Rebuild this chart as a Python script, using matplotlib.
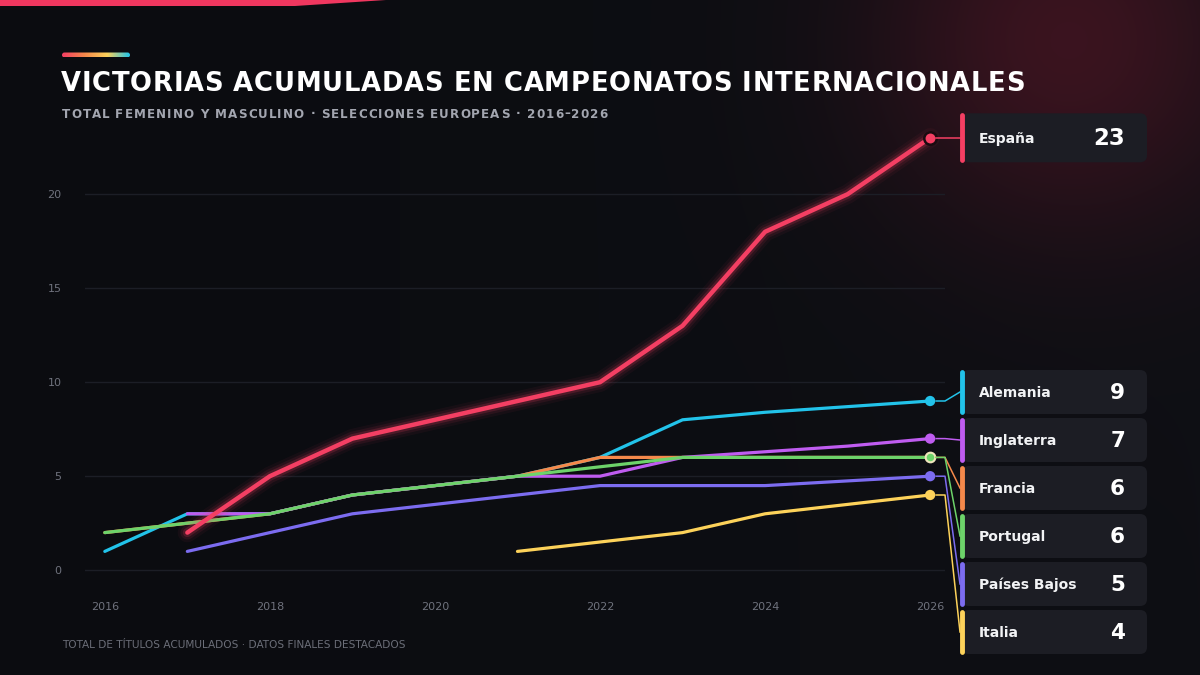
import numpy as np
import matplotlib.pyplot as plt
from matplotlib.patches import FancyBboxPatch, Polygon
from matplotlib.colors import LinearSegmentedColormap, to_rgb
from matplotlib.font_manager import FontProperties

# datos: titulos acumulados por seleccion (suma femenino + masculino)
years = [2016, 2017, 2018, 2019, 2020, 2021, 2022, 2023, 2024, 2025, 2026]
nan = np.nan
espana = [nan, 2, 5, 7, 8, 9, 10, 13, 18, 20, 23]
alemania = [1, 3, 3, 4, 4.5, 5, 6, 8, 8.4, 8.7, 9]
inglaterra = [nan, 3, 3, 4, 4.5, 5, 5, 6, 6.3, 6.6, 7]
francia = [2, 2.5, 3, 4, 4.5, 5, 6, 6, 6, 6, 6]
portugal = [2, 2.5, 3, 4, 4.5, 5, 5.5, 6, 6, 6, 6]
paises_bajos = [nan, 1, 2, 3, 3.5, 4, 4.5, 4.5, 4.5, 4.75, 5]
italia = [nan, nan, nan, nan, nan, 1, 1.5, 2, 3, 3.5, 4]

names = ['España', 'Alemania', 'Inglaterra', 'Francia', 'Portugal', 'Países Bajos', 'Italia']
colors = ['#f43f63', '#22c3ea', '#bf5cf0', '#f5894b', '#6dd36a', '#7c6cf0', '#fdd25a']
draw_order = ['Países Bajos', 'Italia', 'Alemania', 'Francia', 'Inglaterra', 'Portugal', 'España']
series = dict(zip(names, [espana, alemania, inglaterra, francia, portugal, paises_bajos, italia]))
col = dict(zip(names, colors))

W, H = 1200, 675
BG = '#0c0d12'
plt.rcParams['font.family'] = ['DejaVu Sans']

fig = plt.figure(figsize=(12, 6.75), dpi=100)
fig.patch.set_facecolor(BG)

# fondo con brillo rojizo arriba a la derecha
bg = fig.add_axes([0, 0, 1, 1], zorder=0)
bg.axis('off')
yy, xx = np.mgrid[0:H, 0:W]
d2 = (xx - 1068) ** 2 + (yy - 40) ** 2
glow = np.exp(-d2 / (2 * 135 ** 2))[..., None]
base = np.array(to_rgb('#0b0c10'))
right = np.array(to_rgb('#0e0f14'))
lin = (xx / W)[..., None]
img = base * (1 - lin) + right * lin
img = img * (1 - glow * 0.85) + np.array([0.26, 0.08, 0.13]) * glow * 0.85
bg.imshow(img, extent=[0, W, H, 0], aspect='auto')
bg.set_xlim(0, W)
bg.set_ylim(H, 0)

# grafico principal
ax = fig.add_axes([85 / W, 1 - 589 / H, 860 / W, 470 / H], zorder=1)
ax.set_facecolor('none')
ax.set_xlim(2015.76, 2026.18)
ax.set_ylim(-1, 24)
for s in ax.spines.values():
    s.set_visible(False)
ax.set_yticks([0, 5, 10, 15, 20])
ax.set_xticks([2016, 2018, 2020, 2022, 2024, 2026])
ax.tick_params(length=0, colors='#6f727d', labelsize=8)
ax.tick_params(axis='y', pad=17)
ax.tick_params(axis='x', pad=9)
ax.grid(axis='y', color='#1c1e26', lw=1)
ax.grid(axis='x', visible=False)

for name in draw_order:
    vals = series[name]
    c = col[name]
    if name == 'España':
        for lw, a in [(14, 0.05), (10, 0.09), (6.5, 0.18)]:
            ax.plot(years, vals, color=c, lw=lw, alpha=a, solid_capstyle='round', zorder=5)
        ax.plot(years, vals, color=c, lw=3.2, solid_capstyle='round', zorder=6)
    else:
        ax.plot(years, vals, color=c, lw=2.3, solid_capstyle='round', zorder=3)

# puntos finales
for name in draw_order:
    c = col[name]
    last = series[name][-1]
    if name == 'España':
        ax.scatter([years[-1]], [last], s=80, color=c, edgecolor='#1a0b10', lw=1.8, zorder=8, clip_on=False)
    elif name == 'Portugal':
        ax.scatter([years[-1]], [last], s=48, color=c, edgecolor='#efe6bd', lw=1.5, zorder=7, clip_on=False)
    else:
        ax.scatter([years[-1]], [last], s=55, color=c, edgecolor='none', zorder=7, clip_on=False)

# capa superior en pixeles
ov = fig.add_axes([0, 0, 1, 1], zorder=2)
ov.set_xlim(0, W)
ov.set_ylim(H, 0)
ov.axis('off')
ov.patch.set_alpha(0)

fig.canvas.draw()
renderer = fig.canvas.get_renderer()


def to_px(x, y):
    dx, dy = ax.transData.transform((x, y))
    return dx, H - dy


def tracked_text(x, y, s, track, **kw):
    # texto con espaciado entre letras
    fp = FontProperties(family='DejaVu Sans', size=kw.get('fontsize'), weight=kw.get('fontweight', 'normal'))
    bar_w = renderer.get_text_width_height_descent('|', fp, ismath=False)[0]
    for i, ch in enumerate(s):
        if ch == ' ':
            continue
        w = renderer.get_text_width_height_descent(s[:i] + '|', fp, ismath=False)[0] - bar_w
        ov.text(x + (w if i else 0) + i * track, y, ch, va='center', ha='left', **kw)


# barra superior
ov.add_patch(Polygon([(0, 0), (386, 0), (295, 6), (0, 6)], closed=True, color='#f0375f', lw=0))

# pildora degradada
cmap = LinearSegmentedColormap.from_list('g', ['#f43f63', '#f5894b', '#fdd25a', '#22c5e8'])
pill = FancyBboxPatch((62, 52.5), 68, 5, boxstyle='round,pad=0,rounding_size=2.5', fc='none', ec='none')
ov.add_patch(pill)
im = ov.imshow(np.linspace(0, 1, 100)[None, :], cmap=cmap, extent=[62, 130, 57.5, 52.5], aspect='auto')
im.set_clip_path(pill)
ov.set_xlim(0, W)
ov.set_ylim(H, 0)

tracked_text(61, 84, 'VICTORIAS ACUMULADAS EN CAMPEONATOS INTERNACIONALES', 0.7,
             color='white', fontsize=18.6, fontweight='bold')
tracked_text(62, 114, 'TOTAL FEMENINO Y MASCULINO · SELECCIONES EUROPEAS · 2016–2026', 1.1,
             color='#a3a6b0', fontsize=8.6, fontweight='bold')
ov.text(62, 645, 'TOTAL DE TÍTULOS ACUMULADOS · DATOS FINALES DESTACADOS', color='#6b6e78',
        fontsize=7.55, va='center', ha='left')

# etiquetas a la derecha
BAR_X, BOX_R, ELBOW_X = 962, 1147, 945
SPACING, BOTTOM_LIMIT = 48, 632

others = [n for n in names if n != 'España']
others = sorted(others, key=lambda n: -series[n][-1])
targets = [to_px(years[-1], series[n][-1])[1] for n in others]
pos = []
for t in targets:
    pos.append(t if not pos else max(t, pos[-1] + SPACING))
shift = max(0, pos[-1] - BOTTOM_LIMIT)
pos = [p - shift for p in pos]

label_y = {'España': to_px(years[-1], series['España'][-1])[1]}
label_y.update(dict(zip(others, pos)))

for name in names:
    c = col[name]
    ly = label_y[name]
    big = name == 'España'
    h = 49 if big else 44
    ov.add_patch(FancyBboxPatch((BAR_X, ly - h / 2), BOX_R - BAR_X, h,
                                boxstyle='round,pad=0,rounding_size=7', fc='#1c1d24', ec='none', zorder=3))
    ov.plot([BAR_X, BAR_X], [ly - h / 2 + 2, ly + h / 2 - 2], color=c, lw=3.5,
            solid_capstyle='round', zorder=5)
    ov.text(979, ly + 1, name, color='#f2f3f5', fontsize=10, fontweight='bold', va='center', ha='left', zorder=6)
    v = series[name][-1]
    ov.text(1125, ly + 1, f'{v:g}', color='white', fontsize=16.5 if big else 15.5,
            fontweight='bold', va='center', ha='right', zorder=6)
    # conector
    px, py = to_px(years[-1], v)
    ov.plot([px + 6, ELBOW_X, BAR_X - 2], [py, py, ly], color=c, lw=1.1, zorder=2)

fig.savefig('out.png', dpi=100, facecolor=BG)
